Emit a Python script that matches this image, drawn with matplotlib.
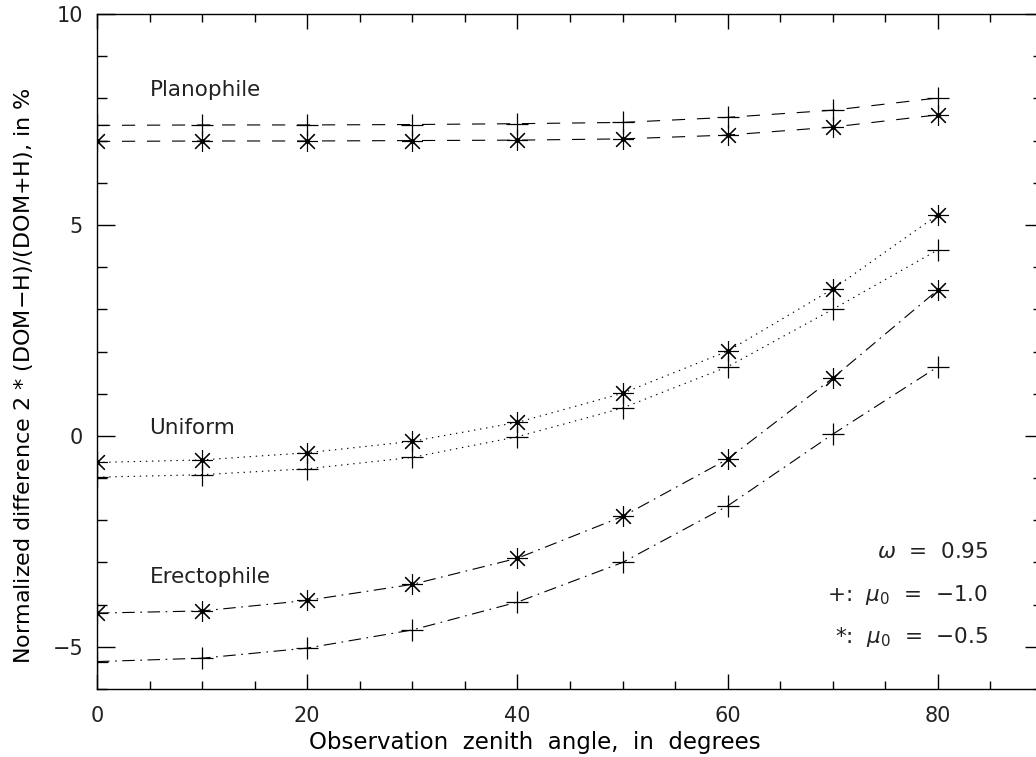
import numpy as np
import matplotlib
matplotlib.use("Agg")
import matplotlib.pyplot as plt

# observation zenith angles (deg)
angles = [0, 10, 20, 30, 40, 50, 60, 70, 80]

# normalized difference, in %   (+: mu0 = -1.0, *: mu0 = -0.5)
plano_plus = [7.36, 7.37, 7.37, 7.38, 7.40, 7.43, 7.55, 7.72, 8.01]
plano_star = [6.98, 6.99, 6.99, 7.00, 7.01, 7.04, 7.13, 7.32, 7.61]
unif_plus = [-0.98, -0.92, -0.78, -0.51, -0.02, 0.66, 1.64, 3.00, 4.41]
unif_star = [-0.63, -0.57, -0.40, -0.13, 0.32, 1.01, 2.01, 3.48, 5.24]
erect_plus = [-5.35, -5.27, -5.03, -4.60, -3.94, -3.00, -1.66, 0.04, 1.64]
erect_star = [-4.20, -4.15, -3.90, -3.52, -2.90, -1.91, -0.55, 1.37, 3.46]

labels = ["Planophile", "Uniform", "Erectophile"]
label_y = [8.2, 0.19, -3.34]
legend_lines = [r"$\omega$  =  0.95", r"+:  $\mu_0$  =  $-$1.0", r"*:  $\mu_0$  =  $-$0.5"]
legend_y = [-2.75, -3.77, -4.76]

plt.rcParams["font.family"] = "DejaVu Sans"
plt.rcParams["lines.scale_dashes"] = False
plt.rcParams["mathtext.fontset"] = "dejavusans"
plt.rcParams["text.color"] = "#222222"

fig = plt.figure(figsize=(10.36, 7.57), dpi=100)
ax = fig.add_axes([97 / 1036, 68 / 757, 946 / 1036, 675 / 757])

dashed = (0, (9.5, 8.5))
dotted = (0, (1.0, 3.4))
dashdot = (0, (9.0, 4.0, 1.2, 4.0))
star = (8, 2, 0)

styles = [(plano_plus, plano_star, dashed),
          (unif_plus, unif_star, dotted),
          (erect_plus, erect_star, dashdot)]

for yp, ys, ls in styles:
    ax.plot(angles, yp, color="black", lw=0.8, linestyle=ls,
            marker="+", ms=16, mew=0.9)
    ax.plot(angles, ys, color="black", lw=0.8, linestyle=ls,
            marker=star, ms=15, mew=0.8)
    ax.plot(angles, ys, color="black", lw=0, marker="o", ms=2.5)

for name, yy in zip(labels, label_y):
    ax.text(5.0, yy, name, fontsize=15.5, va="center", ha="left")

for s, yy in zip(legend_lines, legend_y):
    ax.text(84.8, yy, s, fontsize=15.5, va="center", ha="right")

ax.set_xlim(0, 90)
ax.set_ylim(-6, 10)
ax.set_xticks([0, 20, 40, 60, 80])
ax.set_xticks(np.arange(0, 91, 5), minor=True)
ax.set_yticks([-5, 0, 5, 10])
ax.set_yticks(np.arange(-6, 11, 1), minor=True)

ax.tick_params(which="both", direction="in", top=True, right=True,
               labelsize=15, width=1.0, labelcolor="#222222")
ax.tick_params(axis="y", which="major", length=13, pad=10)
ax.tick_params(axis="y", which="minor", length=7)
ax.tick_params(axis="x", which="major", length=11, pad=12)
ax.tick_params(axis="x", which="minor", length=6)

for sp in ax.spines.values():
    sp.set_linewidth(1.0)

ax.set_xlabel("Observation  zenith  angle,  in  degrees", fontsize=16.5)
ax.xaxis.set_label_coords(0.463, -0.062)
ax.set_ylabel("Normalized difference 2 * (DOM$-$H)/(DOM+H), in %", fontsize=16)
ax.yaxis.set_label_coords(-0.066, 0.465)

fig.savefig("out.png", dpi=100)
